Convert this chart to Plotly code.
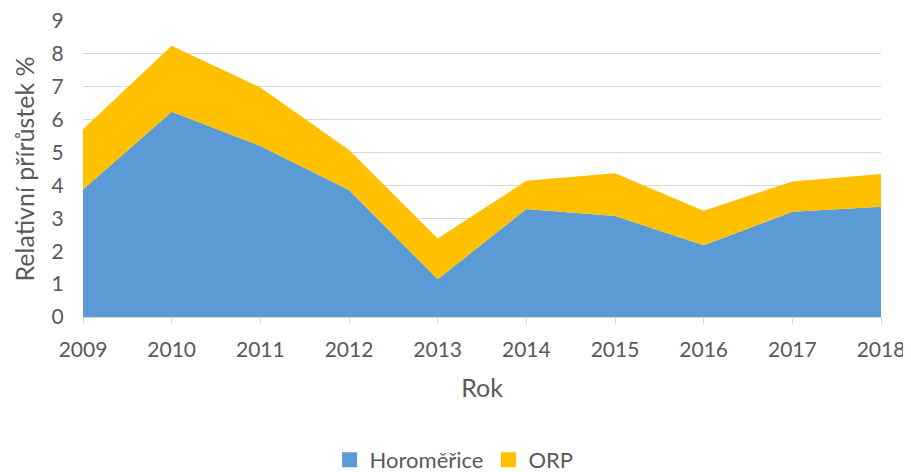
import plotly.graph_objects as go

years = [2009, 2010, 2011, 2012, 2013, 2014, 2015, 2016, 2017, 2018]
horomerice = [3.88, 6.24, 5.20, 3.86, 1.15, 3.28, 3.07, 2.18, 3.20, 3.35]
orp = [1.83, 2.01, 1.78, 1.22, 1.24, 0.86, 1.30, 1.05, 0.92, 1.00]

names = ["Horoměřice", "ORP"]
colors = ["#5B9BD5", "#FFC000"]

fig = go.Figure()

for name, vals, col in zip(names, [horomerice, orp], colors):
    fig.add_trace(
        go.Scatter(
            x=years, y=vals, name=name,
            mode="lines", stackgroup="one",
            line=dict(width=0, color=col),
            fillcolor=col, showlegend=False
        )
    )

# square legend swatches
for name, col in zip(names, colors):
    fig.add_trace(
        go.Scatter(
            x=[None], y=[None], name=name, mode="markers",
            marker=dict(symbol="square", size=15, color=col)
        )
    )

fig.update_layout(
    width=911, height=500,
    margin=dict(l=75, r=38, t=13, b=191),
    paper_bgcolor="white", plot_bgcolor="white",
    font=dict(family="Lato", size=21, color="#595959"),
    legend=dict(
        orientation="h", x=0.465, xanchor="center", y=-0.483, yanchor="middle",
        font=dict(size=22), traceorder="normal", itemwidth=30
    ),
    xaxis=dict(
        title=dict(text="Rok", standoff=19),
        range=[2009, 2018], tickmode="array", tickvals=years,
        showgrid=False, showline=True, linecolor="#d9d9d9", linewidth=1,
        ticks="outside", ticklen=6, tickcolor="#d9d9d9", zeroline=False,
        ticklabelstandoff=8, ticklabeloverflow="allow", automargin=False
    ),
    yaxis=dict(
        title=dict(text="Relativní přírůstek %", standoff=9),
        range=[0, 9], dtick=1, showgrid=True, gridcolor="#d9d9d9", gridwidth=1,
        zeroline=False, showline=False,
        ticks="outside", ticklen=14, tickcolor="rgba(0,0,0,0)",
        ticklabeloverflow="allow", automargin=False
    ),
)

fig.write_html("out.html")
